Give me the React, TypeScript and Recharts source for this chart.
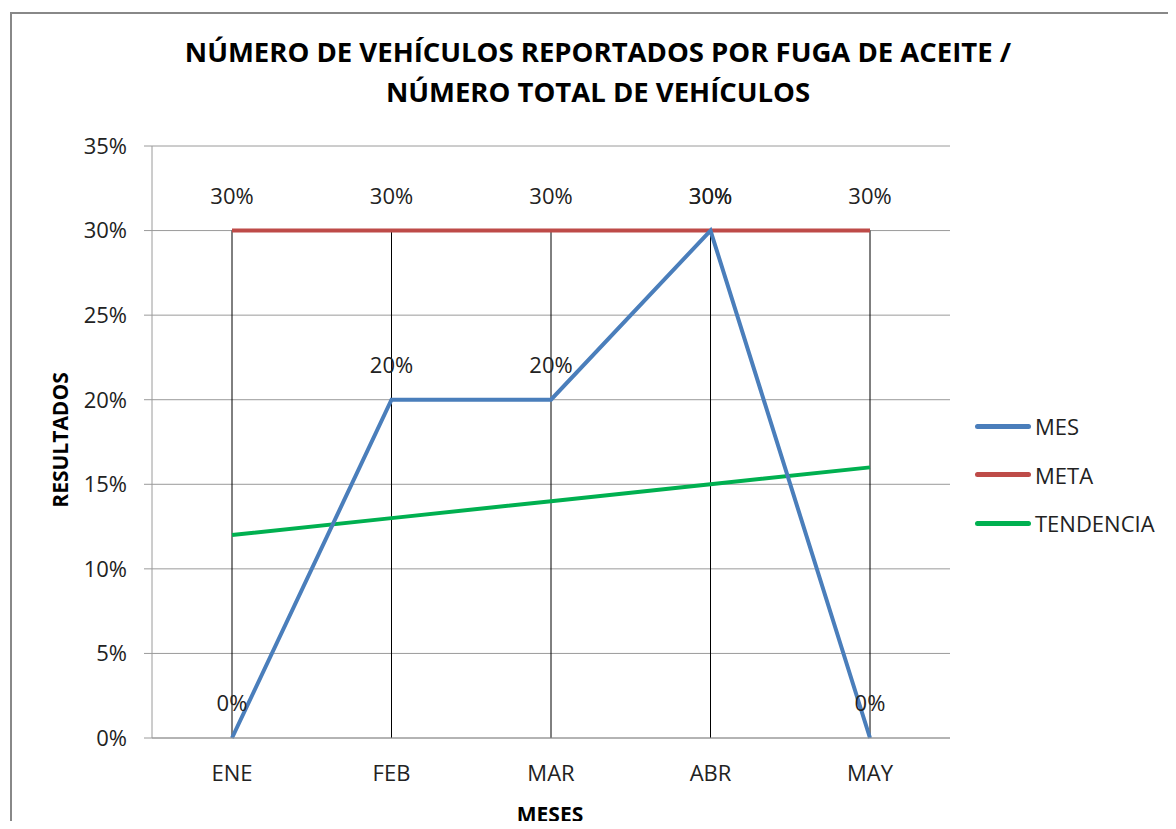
import React from "react";
import {
  LineChart,
  Line,
  XAxis,
  YAxis,
  CartesianGrid,
  ReferenceLine,
  LabelList,
} from "recharts";

const categories = ["ENE", "FEB", "MAR", "ABR", "MAY"];
const mesValues = [0, 0.2, 0.2, 0.3, 0];
const metaValues = [0.3, 0.3, 0.3, 0.3, 0.3];
const tendenciaValues = [0.12, 0.13, 0.14, 0.15, 0.16];
const yTicks = [0, 0.05, 0.1, 0.15, 0.2, 0.25, 0.3, 0.35];

const data = categories.map((name, i) => ({
  name,
  mes: mesValues[i],
  meta: metaValues[i],
  tendencia: tendenciaValues[i],
}));

const FONT = "'Open Sans', 'Noto Sans', sans-serif";
const pct = (v: number) => `${Math.round(v * 100)}%`;

const legendItems = [
  { label: "MES", color: "#4A7EBB" },
  { label: "META", color: "#BE4B48" },
  { label: "TENDENCIA", color: "#00B050" },
];

const ChartLegend = () => (
  <div
    style={{
      position: "absolute",
      left: 975,
      top: 402,
      fontFamily: FONT,
      fontSize: 22,
      color: "#222",
    }}
  >
    {legendItems.map((it) => (
      <div
        key={it.label}
        style={{ display: "flex", alignItems: "center", height: 48.5 }}
      >
        <div
          style={{
            width: 56,
            height: 5,
            borderRadius: 3,
            background: it.color,
            marginRight: 4,
          }}
        />
        <span>{it.label}</span>
      </div>
    ))}
  </div>
);

export default function App() {
  return (
    <div
      style={{
        position: "relative",
        width: 1176,
        height: 829,
        margin: -8,
        overflow: "hidden",
        background: "#fff",
        fontFamily: FONT,
      }}
    >
      <div
        style={{
          position: "absolute",
          left: 10,
          top: 12,
          width: 1300,
          height: 1000,
          border: "2px solid #888",
        }}
      />
      <div
        style={{
          position: "absolute",
          left: 0,
          width: 1196,
          top: 32,
          textAlign: "center",
          fontWeight: 700,
          fontSize: 27.5,
          lineHeight: "40px",
          color: "#000",
        }}
      >
        NÚMERO DE VEHÍCULOS REPORTADOS POR FUGA DE ACEITE /
        <br />
        NÚMERO TOTAL DE VEHÍCULOS
      </div>
      <div
        style={{
          position: "absolute",
          left: 60,
          top: 440,
          transform: "translate(-50%, -50%) rotate(-90deg)",
          fontWeight: 700,
          fontSize: 21,
          color: "#000",
          whiteSpace: "nowrap",
        }}
      >
        RESULTADOS
      </div>
      <div
        style={{
          position: "absolute",
          left: 550,
          top: 814,
          transform: "translate(-50%, -50%)",
          fontWeight: 700,
          fontSize: 21,
          color: "#000",
        }}
      >
        MESES
      </div>
      <div style={{ position: "absolute", left: 0, top: 0 }}>
        <LineChart
          width={1176}
          height={829}
          data={data}
          margin={{ top: 146, right: 226, bottom: 0, left: 0 }}
        >
          <CartesianGrid vertical={false} stroke="#9a9a9a" />
          {data.map((d) => (
            <ReferenceLine
              key={d.name}
              segment={[
                { x: d.name, y: 0 },
                { x: d.name, y: Math.max(d.mes, d.meta, d.tendencia) },
              ]}
              stroke="#000"
              strokeWidth={1}
            />
          ))}
          <XAxis
            dataKey="name"
            height={91}
            padding={{ left: 80, right: 80 }}
            stroke="#9a9a9a"
            tickLine={false}
            tickSize={0}
            tickMargin={27}
            tick={{ fill: "#222", fontSize: 22, fontFamily: FONT }}
          />
          <YAxis
            width={152}
            domain={[0, 0.35]}
            ticks={yTicks}
            tickFormatter={pct}
            stroke="#9a9a9a"
            tickSize={8}
            tickMargin={17}
            tick={{ fill: "#222", fontSize: 22, fontFamily: FONT }}
          />
          <Line
            dataKey="tendencia"
            stroke="#00B050"
            strokeWidth={4}
            dot={false}
            isAnimationActive={false}
          />
          <Line
            dataKey="meta"
            stroke="#BE4B48"
            strokeWidth={4}
            dot={false}
            isAnimationActive={false}
          >
            <LabelList
              dataKey="meta"
              position="top"
              offset={27}
              formatter={pct}
              style={{ fill: "#222", fontSize: 22, fontFamily: FONT }}
            />
          </Line>
          <Line
            dataKey="mes"
            stroke="#4A7EBB"
            strokeWidth={4}
            dot={false}
            isAnimationActive={false}
          >
            <LabelList
              dataKey="mes"
              position="top"
              offset={27}
              formatter={pct}
              style={{ fill: "#222", fontSize: 22, fontFamily: FONT }}
            />
          </Line>
        </LineChart>
      </div>
      <ChartLegend />
    </div>
  );
}
